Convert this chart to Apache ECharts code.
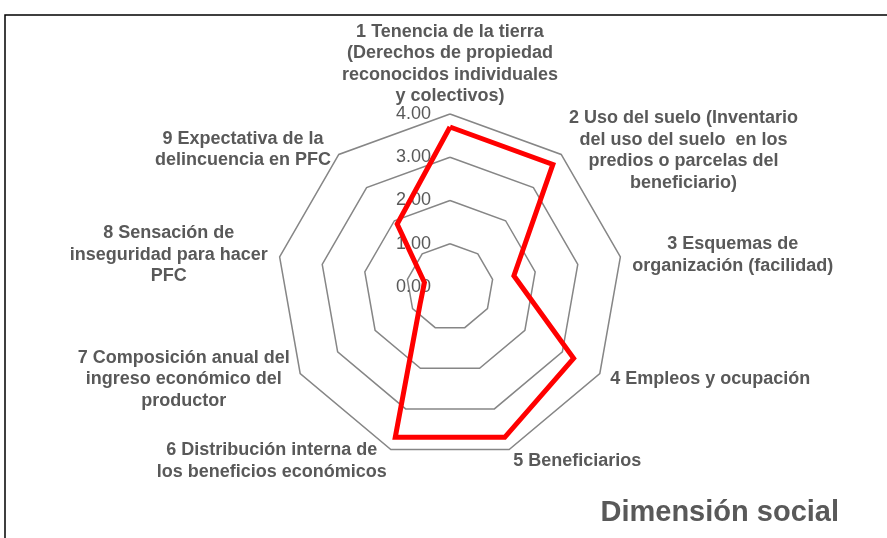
<!DOCTYPE html>
<html>
<head>
<meta charset="utf-8">
<script src="https://cdn.jsdelivr.net/npm/echarts@6/dist/echarts.min.js"></script>
<style>
    html, body { margin: 0; padding: 0; background: #fff; }
    #myChart { width: 887px; height: 538px; }
</style>
</head>
<body>
<div id="myChart"></div>
<script>
    // indicadores (orden de las agujas del reloj, empezando arriba)
    var indicadores = [
        '1 Tenencia de la tierra\n(Derechos de propiedad\nreconocidos individuales\ny colectivos)',
        '2 Uso del suelo (Inventario\ndel uso del suelo  en los\npredios o parcelas del\nbeneficiario)',
        '3 Esquemas de\norganización (facilidad)',
        '4 Empleos y ocupación',
        '5 Beneficiarios',
        '6 Distribución interna de\nlos beneficios económicos',
        '7 Composición anual del\ningreso económico del\nproductor',
        '8 Sensación de\ninseguridad para hacer\nPFC',
        '9 Expectativa de la\ndelincuencia en PFC'
    ];
    var valores = [3.7, 3.7, 1.5, 3.3, 3.7, 3.7, 0.8, 0.6, 1.9];
    var escala = [0, 1, 2, 3, 4];
    var titulo = 'Dimensión social';

    // echarts dibuja los indicadores en sentido antihorario, se invierte el orden
    var orden = [0];
    for (var i = indicadores.length - 1; i > 0; i--) orden.push(i);

    var gris = '#595959';
    var fuente = 'Liberation Sans, Arial';

    // pequeño ajuste vertical de algunos nombres (padding arriba, en px)
    var bajar = { 0: 10, 1: 10, 8: 8 };
    var rich = {};
    indicadores.forEach(function (n, k) {
        rich['s' + k] = {
            align: 'center',
            color: gris,
            fontFamily: fuente,
            fontWeight: 'bold',
            fontSize: 18,
            lineHeight: 21.5,
            padding: [bajar[k] || 0, 0, 0, 0]
        }
    });

    var myChart = echarts.init(document.getElementById('myChart'));

    myChart.setOption({
        animation: false,
        title: {
            text: titulo,
            right: 43,
            top: 493,
            textStyle: {
                color: gris,
                fontFamily: fuente,
                fontWeight: 'bold',
                fontSize: 29
            }
        },
        graphic: [{
            type: 'rect',
            shape: { x: 5, y: 15, width: 1000, height: 700 },
            style: { fill: 'none', stroke: '#000', lineWidth: 1.5 },
            silent: true
        }],
        // solo para las etiquetas 0.00 ... 4.00 sobre el eje vertical
        grid: { left: 450, right: 436, top: 114, bottom: 251 },
        xAxis: { type: 'value', show: false },
        yAxis: {
            type: 'value',
            min: escala[0],
            max: escala[escala.length - 1],
            interval: 1,
            axisLine: { show: false },
            axisTick: { show: false },
            splitLine: { show: false },
            axisLabel: {
                margin: 19,
                color: gris,
                fontFamily: fuente,
                fontSize: 18,
                formatter: function (v) { return v.toFixed(2) }
            }
        },
        radar: {
            center: [450, 287],
            radius: 173,
            startAngle: 90,
            shape: 'polygon',
            splitNumber: 4,
            axisNameGap: 12,
            indicator: orden.map(function (k) {
                return { name: indicadores[k], min: 0, max: 4 }
            }),
            axisName: {
                color: gris,
                fontFamily: fuente,
                fontWeight: 'bold',
                fontSize: 18,
                lineHeight: 21.5,
                formatter: function (name) {
                    var k = indicadores.indexOf(name);
                    return name.split('\n').map(function (l) { return '{s' + k + '|' + l + '}' }).join('\n')
                },
                rich: rich
            },
            axisLine: { show: false },
            splitArea: { show: false },
            splitLine: { lineStyle: { color: '#868686', width: 1.5 } }
        },
        series: [{
            type: 'radar',
            symbol: 'none',
            lineStyle: { color: '#ff0000', width: 5, join: 'miter' },
            data: [{ value: orden.map(function (k) { return valores[k] }) }]
        }]
    });
</script>
</body>
</html>
